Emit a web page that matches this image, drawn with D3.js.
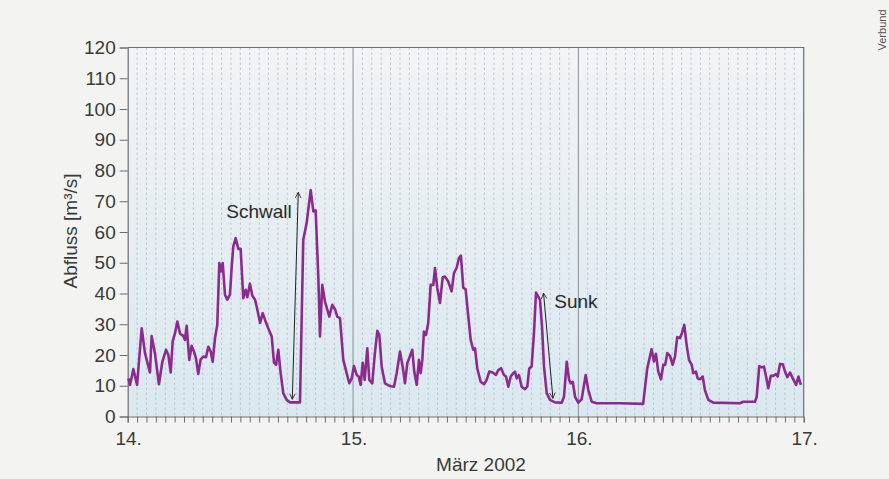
<!DOCTYPE html>
<html>
<head>
<meta charset="utf-8">
<script src="https://cdn.jsdelivr.net/npm/d3@7"></script>
<style>
  html, body { margin: 0; padding: 0; background: #f3f3f1; }
  svg { display: block; font-family: "Liberation Sans", Arial, sans-serif; }
</style>
</head>
<body>
<svg id="chart" width="889" height="479"></svg>
<script>
// Hours since 14 March 2002, 00:00, and discharge in m³/s
const hours = [
  0.07, 0.25, 0.6, 1.0, 1.49, 1.84, 2.37, 2.55, 2.9, 3.33, 3.69, 4.08, 4.33, 4.58, 4.79, 5.04,
  5.29, 5.58, 5.92, 6.1, 6.28, 6.56, 6.81, 7.06, 7.27, 7.51, 7.77, 8.05, 8.34, 8.58, 8.84, 9.05,
  9.3, 9.54, 9.76, 9.94, 10.12, 10.36, 10.61, 10.89, 11.08, 11.25, 11.5, 11.78, 12.03, 12.31, 12.57, 12.74,
  13.02, 13.27, 13.56, 13.81, 14.1, 14.38, 14.63, 14.97, 15.34, 15.58, 15.8, 16.04, 16.29, 16.57, 16.93, 17.28,
  18.35, 18.7, 19.06, 19.49, 19.77, 20.02, 20.3, 20.48, 20.72, 21.01, 21.47, 21.79, 22.08, 22.32, 22.61, 22.96,
  23.32, 23.6, 23.86, 24.1, 24.39, 24.6, 24.81, 25.03, 25.24, 25.52, 25.73, 26.05, 26.31, 26.59, 26.8, 27.05,
  27.4, 27.94, 28.36, 28.65, 29.0, 29.29, 29.53, 29.78, 30.07, 30.31, 30.52, 30.78, 31.02, 31.2, 31.38, 31.55,
  31.77, 32.01, 32.27, 32.55, 32.73, 32.97, 33.26, 33.55, 33.8, 34.14, 34.5, 34.75, 35.03, 35.28, 35.49, 35.74,
  35.99, 36.28, 36.53, 36.8, 36.99, 37.23, 37.59, 37.95, 38.23, 38.51, 38.87, 39.22, 39.47, 39.76, 40.08, 40.29,
  40.54, 40.79, 41.07, 41.25, 41.43, 41.67, 41.96, 42.31, 42.56, 42.77, 43.02, 43.27, 43.49, 43.73, 43.91, 44.13,
  44.34, 44.63, 44.98, 45.51, 46.23, 46.47, 46.76, 47.01, 47.19, 47.4, 47.65, 47.99, 48.35, 48.78, 49.06, 49.42,
  49.95, 52.43, 54.9, 55.34, 55.8, 56.05, 56.26, 56.51, 56.8, 57.04, 57.25, 57.47, 57.76, 58.04, 58.29, 58.53,
  58.82, 59.03, 59.28, 59.53, 59.78, 60.07, 60.24, 60.52, 60.71, 60.95, 61.24, 61.48, 61.84, 62.37, 65.21, 65.56,
  66.81, 66.99, 67.27, 67.53, 67.77, 67.99, 68.23, 68.49, 68.76, 69.05, 69.23, 69.48, 69.77, 70.01, 70.26, 70.55,
  70.84, 71.19, 71.44, 71.7
];
const flow = [
  12.4, 10.3, 15.4, 10.3, 28.7, 20.6, 14.3, 26.2, 20.6, 10.5, 17.8, 21.7, 20, 14.3, 24.4, 27.1,
  30.9, 26.9, 26.2, 24.9, 29.5, 18.4, 23, 21.1, 19, 13.8, 18.6, 19.5, 19.3, 22.7, 21.1, 17.8,
  25.5, 29.8, 49.9, 47.2, 49.9, 39.6, 38, 39.6, 48.8, 55.3, 58, 54.5, 54.5, 38.5, 41.2, 38.8,
  43.2, 39.3, 38, 34.7, 30.4, 33.6, 31.4, 28.7, 26, 17.5, 16.8, 21.7, 14.1, 7.6, 5.4, 4.6,
  4.6, 57.5, 62.9, 73.6, 66.7, 67, 45.5, 26, 42.8, 37.4, 32.5, 36.3, 34.9, 32.5, 32, 18.4,
  14.1, 10.8, 12.4, 16.4, 13.5, 13, 10.3, 17.5, 11.9, 22.2, 11.9, 10.8, 20, 27.9, 26.5, 16.2,
  10.8, 9.9, 9.7, 14.1, 21.1, 16.2, 10.8, 17.3, 19.7, 21.7, 14.6, 10.3, 18.4, 14.1, 18.4, 27.6,
  26.5, 30.4, 42.8, 42.8, 48.3, 41.8, 36.9, 45.3, 45.5, 43.9, 40.7, 46.6, 48.3, 51.5, 52.3, 41.8,
  41.4, 32.5, 24.9, 21.7, 22.2, 15.7, 11.3, 10.5, 11.9, 14.6, 14.3, 13.5, 15.1, 15.7, 13.5, 13,
  9.7, 13, 14.1, 14.6, 12.4, 13.5, 9.7, 8.9, 9.7, 15.7, 16.2, 27.1, 40.3, 39, 37.9, 29.2,
  16.2, 7.6, 5.4, 4.6, 4.5, 6.4, 17.8, 11.9, 10.8, 11.3, 6.4, 4.5, 5.6, 13.5, 8.6, 4.8,
  4.3, 4.3, 4.1, 15.7, 21.9, 17.9, 20.4, 14.6, 12.1, 16.8, 16.8, 20.6, 19.7, 16.8, 19.5, 25.8,
  25.5, 27.1, 29.8, 23.3, 18.4, 16.8, 14.1, 14.6, 12.4, 12.1, 13, 8.6, 5.4, 4.5, 4.3, 4.8,
  4.8, 6.4, 16.4, 16, 16.2, 13, 9.2, 13.2, 13.2, 13.8, 13, 17.1, 17, 14.6, 12.8, 14.3,
  12.4, 10.3, 13, 10.3
];

// Axis labels
const dayLabels = ["14.", "15.", "16.", "17."];
const yTicks = [0, 10, 20, 30, 40, 50, 60, 70, 80, 90, 100, 110, 120];
const xTitle = "März 2002";
const yTitle = "Abfluss [m³/s]";
const sourceNote = "Verbund";

// Annotation arrows: [hour, flow] for the lower and upper ends
const annotationNames = ["Schwall", "Sunk"];
const annotationLow = [[17.53, 5.6], [45.29, 5.9]];
const annotationHigh = [[18.17, 72.9], [44.29, 40.1]];

const svg = d3.select("#chart");
const plotLeft = 127.7, plotRight = 803.7, plotTop = 47.5, plotBottom = 416.5;

const x = d3.scaleLinear().domain([0, 72]).range([plotLeft, plotRight]);
const y = d3.scaleLinear().domain([0, 120]).range([plotBottom, plotTop]);

// Plot background: pale at the top, light blue at the bottom
const defs = svg.append("defs");
const grad = defs.append("linearGradient")
  .attr("id", "plotBg").attr("x1", 0).attr("y1", 0).attr("x2", 0).attr("y2", 1);
grad.append("stop").attr("offset", "0%").attr("stop-color", "#f2f4f5");
grad.append("stop").attr("offset", "100%").attr("stop-color", "#dae8f0");

svg.append("rect")
  .attr("x", plotLeft).attr("y", plotTop)
  .attr("width", plotRight - plotLeft).attr("height", plotBottom - plotTop)
  .attr("fill", "url(#plotBg)");

// Hourly dashed grid lines, solid lines at day boundaries
svg.append("g").selectAll("line")
  .data(d3.range(1, 72).filter(h => h % 24 !== 0))
  .join("line")
  .attr("x1", d => x(d)).attr("x2", d => x(d))
  .attr("y1", plotTop).attr("y2", plotBottom)
  .attr("stroke", "#b9bdc1").attr("stroke-width", 0.8)
  .attr("stroke-dasharray", "2.5,2.5");

svg.append("g").selectAll("line")
  .data([24, 48])
  .join("line")
  .attr("x1", d => x(d)).attr("x2", d => x(d))
  .attr("y1", plotTop).attr("y2", plotBottom + 6)
  .attr("stroke", "#8c8f92").attr("stroke-width", 1);

// Frame: top and right edges
svg.append("path")
  .attr("d", `M${plotLeft},${plotTop}H${plotRight}V${plotBottom}`)
  .attr("fill", "none").attr("stroke", "#6c6f72").attr("stroke-width", 1.2);

// Y axis
const yAxis = svg.append("g")
  .attr("transform", `translate(${plotLeft},0)`)
  .call(d3.axisLeft(y).tickValues(yTicks).tickSize(8).tickPadding(4).tickFormat(d3.format("d")));
yAxis.select(".domain").attr("stroke", "#6c6f72").attr("stroke-width", 1.2);
yAxis.selectAll(".tick line").attr("stroke", "#6c6f72");
yAxis.selectAll(".tick text")
  .attr("font-size", 19).attr("fill", "#3a3a3a")
  .attr("font-family", "'Liberation Sans', Arial, sans-serif");

// X axis with hourly ticks
const xAxis = svg.append("g")
  .attr("transform", `translate(0,${plotBottom})`)
  .call(d3.axisBottom(x).tickValues(d3.range(0, 73)).tickSize(6).tickFormat(""));
xAxis.select(".domain").attr("stroke", "#6c6f72").attr("stroke-width", 1.2);
xAxis.selectAll(".tick line").attr("stroke", "#6c6f72");

svg.append("g").selectAll("text")
  .data(dayLabels)
  .join("text")
  .attr("x", (d, i) => x(i * 24) + 1)
  .attr("y", 445)
  .attr("text-anchor", "middle")
  .attr("font-size", 19).attr("fill", "#3a3a3a")
  .text(d => d);

svg.append("text")
  .attr("x", 481).attr("y", 471)
  .attr("text-anchor", "middle")
  .attr("font-size", 19).attr("fill", "#3a3a3a")
  .text(xTitle);

svg.append("text")
  .attr("transform", "translate(77,231) rotate(-90)")
  .attr("text-anchor", "middle")
  .attr("font-size", 19).attr("fill", "#3a3a3a")
  .text(yTitle);

svg.append("text")
  .attr("transform", "translate(886,30) rotate(-90)")
  .attr("text-anchor", "middle")
  .attr("font-size", 11).attr("fill", "#555")
  .text(sourceNote);

// Discharge line
const series = hours.map((h, i) => [h, flow[i]]);
svg.append("path")
  .datum(series)
  .attr("fill", "none")
  .attr("stroke", "#8a2b8d")
  .attr("stroke-width", 2.6)
  .attr("stroke-linejoin", "round")
  .attr("d", d3.line().x(d => x(d[0])).y(d => y(d[1])));

// Double-headed annotation arrows
defs.append("marker")
  .attr("id", "head")
  .attr("viewBox", "0 0 10 10")
  .attr("refX", 9).attr("refY", 5)
  .attr("markerWidth", 7).attr("markerHeight", 7)
  .attr("markerUnits", "userSpaceOnUse")
  .attr("orient", "auto-start-reverse")
  .append("path")
  .attr("d", "M1,1L9,5L1,9")
  .attr("fill", "none").attr("stroke", "#222").attr("stroke-width", 1.2);

annotationNames.forEach((name, i) => {
  const [h0, v0] = annotationLow[i];
  const [h1, v1] = annotationHigh[i];
  svg.append("line")
    .attr("x1", x(h0)).attr("y1", y(v0))
    .attr("x2", x(h1)).attr("y2", y(v1))
    .attr("stroke", "#222").attr("stroke-width", 1)
    .attr("marker-start", "url(#head)")
    .attr("marker-end", "url(#head)");
});

// Annotation labels
svg.append("text")
  .attr("x", x(17.47)).attr("y", 218)
  .attr("text-anchor", "end")
  .attr("font-size", 19).attr("fill", "#2a2a2a")
  .text(annotationNames[0]);

svg.append("text")
  .attr("x", x(45.43)).attr("y", 308)
  .attr("text-anchor", "start")
  .attr("font-size", 19).attr("fill", "#2a2a2a")
  .text(annotationNames[1]);
</script>
</body>
</html>
